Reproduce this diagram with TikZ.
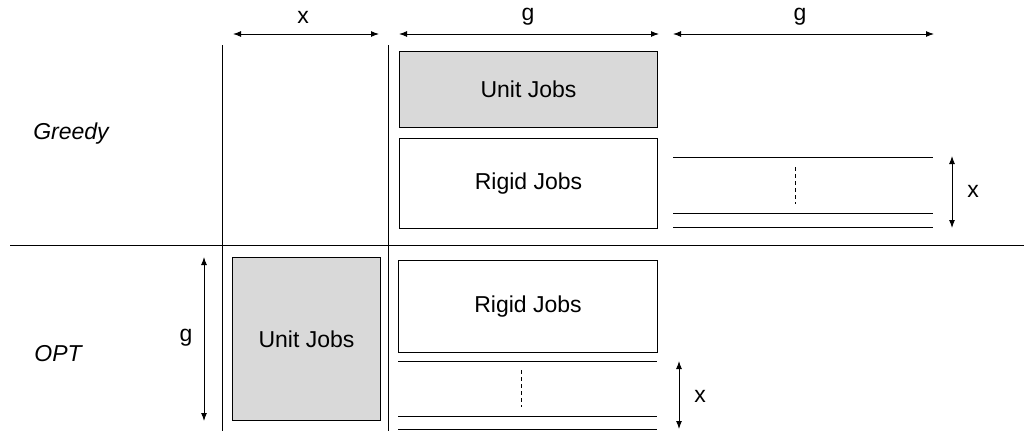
\documentclass[tikz,border=0pt]{standalone}
\usepackage{fontspec}
\setmainfont{Liberation Sans}
\usetikzlibrary{arrows.meta}
\begin{document}
\begin{tikzpicture}[x=1pt,y=-1pt,
  every node/.style={font=\fontsize{23}{27}\selectfont},
  job/.style={draw, line width=1pt, minimum width=258pt, inner sep=0pt, anchor=north west},
  unit/.style={job, fill=black!15},
  rule/.style={line width=1pt},
  dim/.style={line width=1pt, {Latex[length=8pt,width=6pt]}-{Latex[length=8pt,width=6pt]}},
  lbl/.style={inner sep=0pt},
  dots/.style={line width=0.9pt, dash pattern=on 4pt off 3pt}]
\useasboundingbox (0,0) rectangle (1026,431);
% dimension arrows on top
\coordinate (tx1) at (233,34); \coordinate (tx2) at (379,34);
\coordinate (tg1) at (399,34); \coordinate (tg2) at (659,34);
\coordinate (th1) at (673,34); \coordinate (th2) at (934,34);
\draw[dim] (tx1) -- (tx2);
\draw[dim] (tg1) -- (tg2);
\draw[dim] (th1) -- (th2);
\node[lbl] (lx) at (303,17) {x};
\node[lbl] (lg1) at (528,17) {g};
\node[lbl] (lg2) at (800,17) {g};
% grid lines
\coordinate (v1a) at (222,45); \coordinate (v1b) at (222,431);
\coordinate (v2a) at (388,45); \coordinate (v2b) at (388,431);
\coordinate (ha) at (10,245); \coordinate (hb) at (1024,245);
\draw[rule] (v1a) -- (v1b);
\draw[rule] (v2a) -- (v2b);
\draw[rule] (ha) -- (hb);
% row labels
\node[lbl] (greedy) at (71,134) {\itshape Greedy};
\node[lbl] (opt) at (58,354) {\itshape OPT};
% Greedy boxes
\node[unit, minimum height=76pt] (gu) at (399,51) {Unit Jobs};
\node[job, minimum height=90pt] (gr) at (399,138) {Rigid Jobs};
% Greedy right lines
\coordinate (r1a) at (673,157); \coordinate (r1b) at (933,157);
\coordinate (r2a) at (673,213); \coordinate (r2b) at (933,213);
\coordinate (r3a) at (673,227); \coordinate (r3b) at (933,227);
\draw[rule] (r1a) -- (r1b);
\draw[rule] (r2a) -- (r2b);
\draw[rule] (r3a) -- (r3b);
\coordinate (rda) at (795,167); \coordinate (rdb) at (795,204);
\draw[dots] (rda) -- (rdb);
\coordinate (rxa) at (952,156); \coordinate (rxb) at (952,228);
\draw[dim] (rxa) -- (rxb);
\node[lbl] (rx) at (973,191) {x};
% OPT boxes
\node[unit, minimum width=148pt, minimum height=163pt] (ou) at (232,257) {Unit Jobs};
\coordinate (oga) at (204,257); \coordinate (ogb) at (204,421);
\draw[dim] (oga) -- (ogb);
\node[lbl] (og) at (186,338) {g};
\node[job, minimum width=259pt, minimum height=92pt] (orr) at (398,260) {Rigid Jobs};
% OPT bottom lines
\coordinate (b1a) at (398,361); \coordinate (b1b) at (657,361);
\coordinate (b2a) at (398,416); \coordinate (b2b) at (657,416);
\coordinate (b3a) at (398,429); \coordinate (b3b) at (657,429);
\draw[rule] (b1a) -- (b1b);
\draw[rule] (b2a) -- (b2b);
\draw[rule] (b3a) -- (b3b);
\coordinate (bda) at (521,370); \coordinate (bdb) at (521,407);
\draw[dots] (bda) -- (bdb);
\coordinate (bxa) at (679,361); \coordinate (bxb) at (679,429);
\draw[dim] (bxa) -- (bxb);
\node[lbl] (bx) at (700,396) {x};
\end{tikzpicture}
\end{document}
